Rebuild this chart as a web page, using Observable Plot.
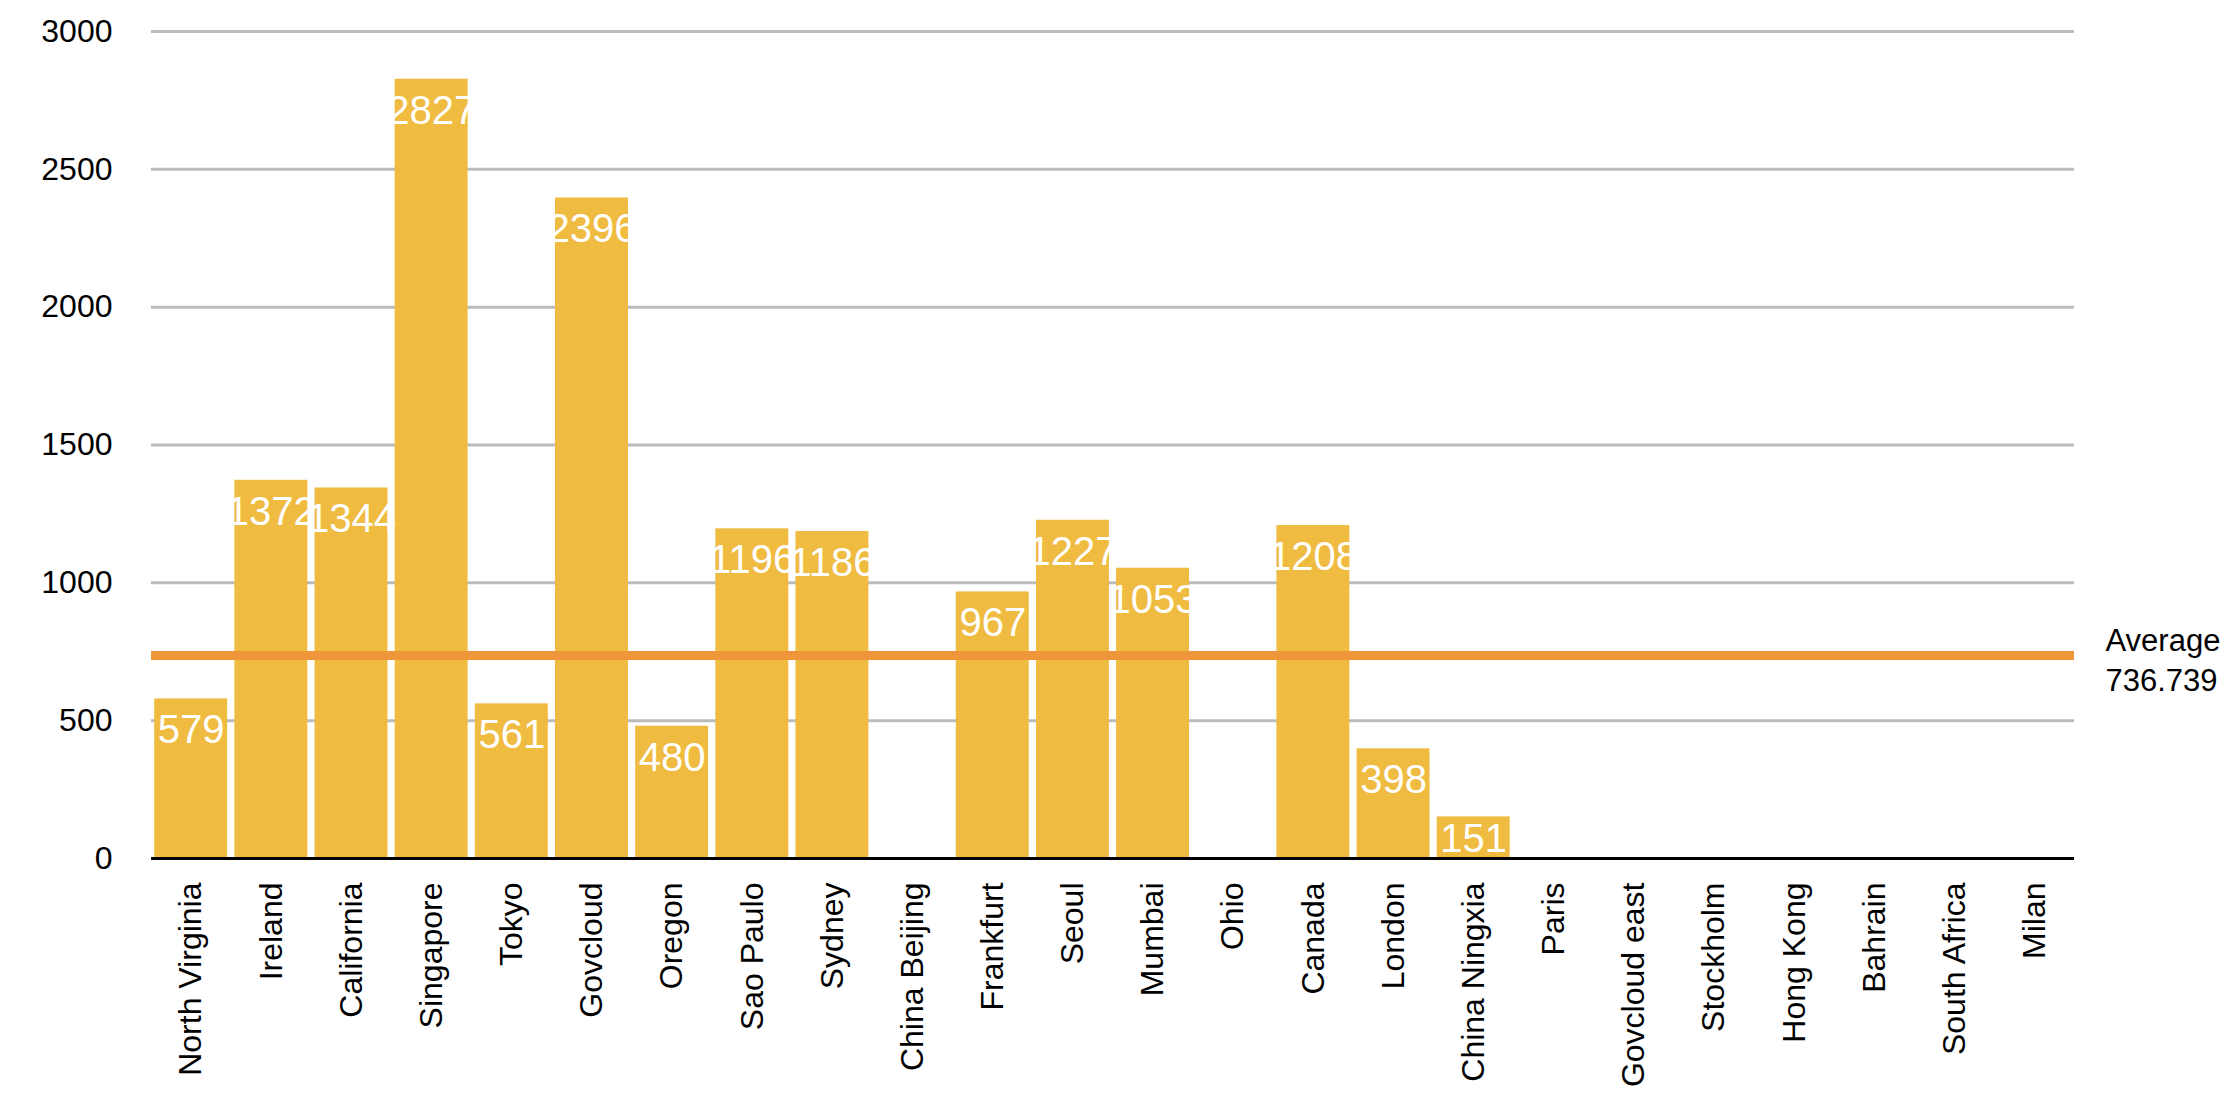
<!DOCTYPE html>
<html>
<head>
<meta charset="utf-8">
<script src="https://cdn.jsdelivr.net/npm/d3@7"></script>
<script src="https://cdn.jsdelivr.net/npm/@observablehq/plot@0.6"></script>
<style>
  html, body { margin: 0; padding: 0; background: #fff; }
  #chart svg { display: block; }
</style>
</head>
<body>
<div id="chart"></div>
<script>
const regions = ["North Virginia", "Ireland", "California", "Singapore", "Tokyo", "Govcloud", "Oregon", "Sao Paulo", "Sydney", "China Beijing", "Frankfurt", "Seoul", "Mumbai", "Ohio", "Canada", "London", "China Ningxia", "Paris", "Govcloud east", "Stockholm", "Hong Kong", "Bahrain", "South Africa", "Milan"];
const counts = [579, 1372, 1344, 2827, 561, 2396, 480, 1196, 1186, 0, 967, 1227, 1053, 0, 1208, 398, 151, 0, 0, 0, 0, 0, 0, 0];
const averageValue = 736.739;
const averageLabel = "Average\n736.739";
const yTicks = [0, 500, 1000, 1500, 2000, 2500, 3000];

const data = regions.map((name, i) => ({name, value: counts[i]}));
const font = "'Liberation Sans', Arial, Helvetica, sans-serif";
// labels of short bars are kept inside the bar, resting on the baseline
const fitsTop = d => d.value >= 200;

const chart = Plot.plot({
  width: 2238,
  height: 1112,
  marginLeft: 151,
  marginRight: 164,
  marginTop: 31,
  marginBottom: 254,
  style: {fontFamily: font, fontSize: "32px", color: "#000", background: "#fff"},
  x: {domain: regions, paddingInner: 0.09, paddingOuter: 0.04, round: false, label: null},
  y: {domain: [0, 3000], label: null},
  marks: [
    Plot.gridY(yTicks, {stroke: "#bbbbbb", strokeWidth: 3, strokeOpacity: 1}),
    Plot.axisY(yTicks, {tickSize: 0, tickPadding: 39, fontSize: 32, tickFormat: d => String(d), label: null}),
    Plot.axisX({tickSize: 0, tickPadding: 24, tickRotate: -90, fontSize: 32, label: null}),
    Plot.barY(data, {x: "name", y: "value", fill: "#EFBB40"}),
    Plot.ruleY([0], {stroke: "#000", strokeWidth: 3}),
    Plot.text(data.filter(d => d.value > 0 && fitsTop(d)), {
      x: "name", y: "value", text: d => String(d.value),
      fill: "#fff", fontSize: 40, lineAnchor: "top", dy: 16
    }),
    Plot.text(data.filter(d => d.value > 0 && !fitsTop(d)), {
      x: "name", y: () => 0, text: d => String(d.value),
      fill: "#fff", fontSize: 40, lineAnchor: "bottom", dy: -7
    }),
    Plot.ruleY([averageValue], {stroke: "#F0963A", strokeWidth: 9}),
    Plot.text([averageValue], {
      y: d => d, text: () => averageLabel, frameAnchor: "right",
      textAnchor: "start", dx: 31, dy: 3, fontSize: 31, lineHeight: 1.3, fill: "#000"
    })
  ]
});
document.getElementById("chart").appendChild(chart);
</script>
</body>
</html>
